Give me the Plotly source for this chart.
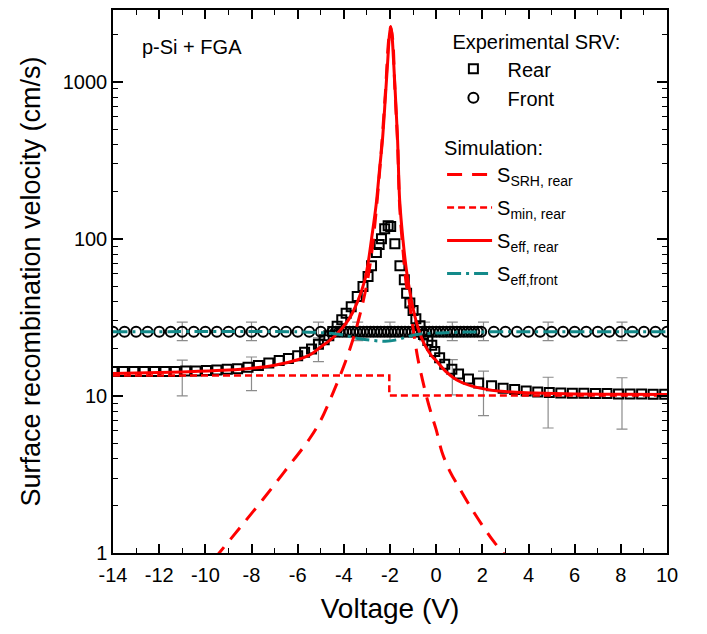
import plotly.graph_objects as go

# ---------------- data ----------------
rear_x = [-14.0, -13.55, -13.1, -12.65, -12.2, -11.75, -11.3, -10.85, -10.4, -9.95,
          -9.5, -9.05, -8.6, -8.15, -7.7, -7.25, -6.8, -6.4, -6.0, -5.7,
          -5.4, -5.1, -4.85, -4.65, -4.48, -4.29, -4.09, -3.9, -3.68, -3.42,
          -3.17, -2.95, -2.8, -2.59, -2.47, -2.37, -2.23, -2.08, -1.97, -1.79,
          -1.57, -1.38, -1.28, -1.14, -1.0, -0.88, -0.7, -0.55, -0.36, -0.19,
          -0.06, 0.15, 0.37, 0.68, 0.97, 1.4, 1.84, 2.4, 2.9, 3.4,
          3.9, 4.4, 4.9, 5.4, 5.9, 6.4, 6.9, 7.4, 7.9, 8.4,
          8.9, 9.4, 9.9]
rear_y = [14.3, 14.3, 14.3, 14.3, 14.3, 14.3, 14.3, 14.4, 14.4, 14.5,
          14.6, 14.8, 14.9, 15.2, 15.6, 16.2, 16.8, 17.3, 18.0, 19.0,
          19.9, 21.3, 22.8, 24.2, 25.7, 27.8, 30.5, 33.6, 37.0, 43.0,
          49.7, 57.6, 67.5, 82.0, 92.0, 100.0, 116.0, 121.0, 120.0, 93.0,
          67.5, 55.0, 45.0, 39.0, 35.0, 31.0, 28.0, 24.6, 22.5, 21.0,
          19.2, 17.5, 15.9, 14.8, 13.8, 12.8, 12.1, 11.6, 11.2, 11.0,
          10.75, 10.6, 10.5, 10.45, 10.4, 10.4, 10.35, 10.35, 10.3, 10.3,
          10.3, 10.25, 10.25]

front_x = [-14.0, -13.5, -13.0, -12.5, -12.0, -11.5, -11.0, -10.5, -10.0, -9.5,
           -9.0, -8.5, -8.0, -7.5, -7.0, -6.5, -6.0, -5.5, -5.0, -4.5,
           -4.35, -4.2, -4.05, -3.9, -3.75, -3.6, -3.45, -3.3, -3.15, -3.0,
           -2.85, -2.7, -2.55, -2.4, -2.25, -2.1, -1.95, -1.8, -1.65, -1.5,
           -1.35, -1.2, -1.05, -0.9, -0.75, -0.6, -0.45, -0.3, -0.15, 0.0,
           0.15, 0.3, 0.45, 0.6, 0.75, 0.9, 1.05, 1.2, 1.35, 1.5,
           1.65, 1.8, 1.95, 2.5, 3.0, 3.5, 4.0, 4.5, 5.0, 5.5,
           6.0, 6.5, 7.0, 7.5, 8.0, 8.5, 9.0, 9.5, 10.0]
front_y = [25.6, 25.6, 25.6, 25.6, 25.6, 25.6, 25.6, 25.6, 25.6, 25.6,
           25.6, 25.6, 25.6, 25.6, 25.6, 25.6, 25.6, 25.6, 25.6, 25.6,
           25.6, 25.6, 25.6, 25.6, 25.6, 25.6, 25.6, 25.6, 25.6, 25.6,
           25.6, 25.6, 25.6, 25.6, 25.6, 25.6, 25.6, 25.6, 25.6, 25.6,
           25.6, 25.6, 25.6, 25.6, 25.6, 25.6, 25.6, 25.6, 25.6, 25.6,
           25.6, 25.6, 25.6, 25.6, 25.6, 25.6, 25.6, 25.6, 25.6, 25.6,
           25.6, 25.6, 25.6, 25.6, 25.6, 25.6, 25.6, 25.6, 25.6, 25.6,
           25.6, 25.6, 25.6, 25.6, 25.6, 25.6, 25.6, 25.6, 25.6]

rear_err_x = [-11.0, -8.0, -5.1, 0.7, 2.05, 4.85, 8.05]
rear_err_y = [13.45, 14.25, 20.0, 13.6, 10.95, 9.7, 9.6]
rear_err = [3.45, 3.45, 3.45, 3.45, 3.45, 3.45, 3.45]

front_err_x = [-11.0, -8.0, -5.1, -3.4, -2.0, -0.5, 0.7, 2.05, 4.85, 8.05]
front_err_y = [26.0, 26.0, 26.0, 26.0, 26.0, 26.0, 26.0, 26.0, 26.0, 26.0]
front_err = [3.5, 3.5, 3.5, 3.5, 3.5, 3.5, 3.5, 3.5, 3.5, 3.5]

srh_x = [-9.6, -9.4, -8.5, -7.5, -6.5, -5.5, -5.0, -4.5, -4.0, -3.6,
         -3.3, -3.0, -2.8, -2.6, -2.4, -2.2, -2.05, -1.97, -1.88, -1.8,
         -1.67, -1.58, -1.43, -1.3, -1.2, -1.0, -0.8, -0.6, -0.4, -0.2,
         0.0, 0.25, 0.6, 1.0, 1.5, 2.0, 2.5, 2.9, 3.05]
srh_y = [0.92, 1.0, 1.45, 2.2, 3.4, 5.3, 7.0, 10.2, 15.5, 23.0,
         33.0, 52.0, 80.0, 150.0, 330.0, 850.0, 1900.0, 2230.0, 1850.0, 980.0,
         400.0, 160.0, 82.0, 52.0, 43.0, 27.0, 17.5, 12.8, 9.7, 7.6,
         6.1, 4.4, 3.3, 2.6, 1.95, 1.5, 1.18, 1.0, 0.94]

smin_x = [-14.0, -2.03, -2.03, 10.0]
smin_y = [13.5, 13.5, 10.05, 10.05]

seff_x = [-14.0, -12.0, -10.5, -9.0, -8.0, -7.0, -6.0, -5.4, -5.0, -4.4,
          -3.8, -3.4, -3.1, -2.95, -2.8, -2.6, -2.45, -2.33, -2.2, -2.1,
          -2.03, -1.97, -1.91, -1.85, -1.78, -1.67, -1.58, -1.43, -1.3, -1.21,
          -1.0, -0.78, -0.5, -0.2, 0.0, 0.4, 1.0, 1.8, 2.8, 4.3,
          6.0, 8.0, 10.0]
seff_y = [13.9, 14.1, 14.3, 14.6, 15.0, 15.7, 17.0, 18.5, 20.5, 24.0,
          30.5, 40.0, 54.0, 70.0, 100.0, 165.0, 280.0, 420.0, 800.0, 1350.0,
          1950.0, 2250.0, 1950.0, 1400.0, 900.0, 420.0, 175.0, 96.0, 65.0, 53.0,
          36.0, 27.0, 21.2, 18.0, 16.8, 14.4, 12.4, 11.3, 10.7, 10.45,
          10.3, 10.25, 10.2]

sfront_x = [-14.0, -6.0, -5.0, -4.4, -3.8, -3.4, -2.8, -2.2, -1.7, -1.3,
            -0.9, -0.4, 0.2, 1.4, 3.0, 10.0]
sfront_y = [25.6, 25.6, 25.3, 24.9, 24.0, 23.2, 22.6, 22.3, 22.8, 23.7,
            24.5, 25.0, 25.2, 25.5, 25.6, 25.6]

x_tickvals = [-14, -12, -10, -8, -6, -4, -2, 0, 2, 4, 6, 8, 10]
x_ticktext = ['-14', '-12', '-10', '-8', '-6', '-4', '-2', '0', '2', '4', '6', '8', '10']
y_tickvals = [1, 10, 100, 1000]
y_ticktext = ['1', '10', '100', '1000']
y_minor_vals = [2, 3, 4, 5, 6, 7, 8, 9, 20, 30, 40, 50, 60, 70, 80, 90,
                200, 300, 400, 500, 600, 700, 800, 900, 2000]

# ---------------- figure ----------------
FONT = 'Liberation Sans, Arial, sans-serif'
RED = '#ff0000'
TEAL = '#138a8a'
NB = '\u00a0'

fig = go.Figure()

fig.add_trace(go.Scatter(x=front_err_x, y=front_err_y, mode='markers',
                         marker=dict(size=1, color='rgba(0,0,0,0)'),
                         error_y=dict(type='data', array=front_err, color='#8c8c8c',
                                      thickness=1.2, width=5.5),
                         showlegend=False, hoverinfo='skip'))
fig.add_trace(go.Scatter(x=rear_err_x, y=rear_err_y, mode='markers',
                         marker=dict(size=1, color='rgba(0,0,0,0)'),
                         error_y=dict(type='data', array=rear_err, color='#8c8c8c',
                                      thickness=1.2, width=5.5),
                         showlegend=False, hoverinfo='skip'))

fig.add_trace(go.Scatter(x=rear_x, y=rear_y, mode='markers', name=NB * 2 + 'Rear',
                         marker=dict(symbol='square-open', size=9, color='black',
                                     line=dict(width=2, color='black')),
                         legend='legend'))
fig.add_trace(go.Scatter(x=front_x, y=front_y, mode='markers', name=NB * 2 + 'Front',
                         marker=dict(symbol='circle-open', size=10, color='black',
                                     line=dict(width=2, color='black')),
                         legend='legend'))

fig.add_trace(go.Scatter(x=srh_x, y=srh_y, mode='lines', line_shape='spline',
                         name='S<sub>SRH, rear</sub>', legendgroup='g1',
                         line=dict(color=RED, width=3, dash='15px,10px'), legend='legend2'))
fig.add_trace(go.Scatter(x=smin_x, y=smin_y, mode='lines',
                         name='S<sub>min, rear</sub>', legendgroup='g2',
                         line=dict(color=RED, width=2.5, dash='7px,4px'), legend='legend2'))
fig.add_trace(go.Scatter(x=seff_x, y=seff_y, mode='lines', line_shape='spline',
                         name='S<sub>eff, rear</sub>', legendgroup='g3',
                         line=dict(color=RED, width=3), legend='legend2'))
fig.add_trace(go.Scatter(x=sfront_x, y=sfront_y, mode='lines', line_shape='spline',
                         name='S<sub>eff,front</sub>', legendgroup='g4',
                         line=dict(color=TEAL, width=3, dash='14px,5px,3px,5px'), legend='legend2'))

axis_common = dict(showline=True, linecolor='black', linewidth=1.5, mirror='allticks',
                   ticks='inside', tickcolor='black', showgrid=False, zeroline=False,
                   tickfont=dict(size=20, color='black', family=FONT))

fig.update_xaxes(range=[-14, 10], tickvals=x_tickvals, ticktext=x_ticktext,
                 ticklen=9, tickwidth=1.5, ticklabelstandoff=3,
                 minor=dict(dtick=1, ticks='inside', ticklen=5, tickcolor='black', tickwidth=1.2, showgrid=False),
                 title=dict(text='Voltage (V)', font=dict(size=28, color='black', family=FONT), standoff=14),
                 **axis_common)
fig.update_yaxes(type='log', range=[0, 3.457], tickvals=y_tickvals, ticktext=y_ticktext,
                 ticklen=10, tickwidth=1.5,
                 minor=dict(tickvals=y_minor_vals, ticks='inside', ticklen=5, tickcolor='black',
                            tickwidth=1.2, showgrid=False),
                 title=dict(text='Surface recombination velocity (cm/s)',
                            font=dict(size=27, color='black', family=FONT), standoff=14),
                 **axis_common)

fig.add_annotation(text='p-Si + FGA', xref='paper', yref='paper', x=0.048, y=0.932,
                   xanchor='left', yanchor='middle', showarrow=False,
                   font=dict(size=20, color='black', family=FONT))

fig.update_layout(
    width=707, height=634,
    margin=dict(l=113, r=40, t=8, b=81),
    paper_bgcolor='white', plot_bgcolor='white',
    font=dict(family=FONT, color='black'),
    legend=dict(x=0.609, y=0.9757, xanchor='left', yanchor='top',
                bgcolor='rgba(0,0,0,0)', borderwidth=0,
                font=dict(size=20, color='black', family=FONT), itemwidth=36,
                title=dict(text='Experimental SRV:', font=dict(size=20, color='black', family=FONT))),
    legend2=dict(x=0.594, y=0.781, xanchor='left', yanchor='top',
                 bgcolor='rgba(0,0,0,0)', borderwidth=0, tracegroupgap=4,
                 font=dict(size=20, color='black', family=FONT), itemwidth=45,
                 title=dict(text='Simulation:', font=dict(size=20, color='black', family=FONT))),
)

fig.write_html('out.html')
